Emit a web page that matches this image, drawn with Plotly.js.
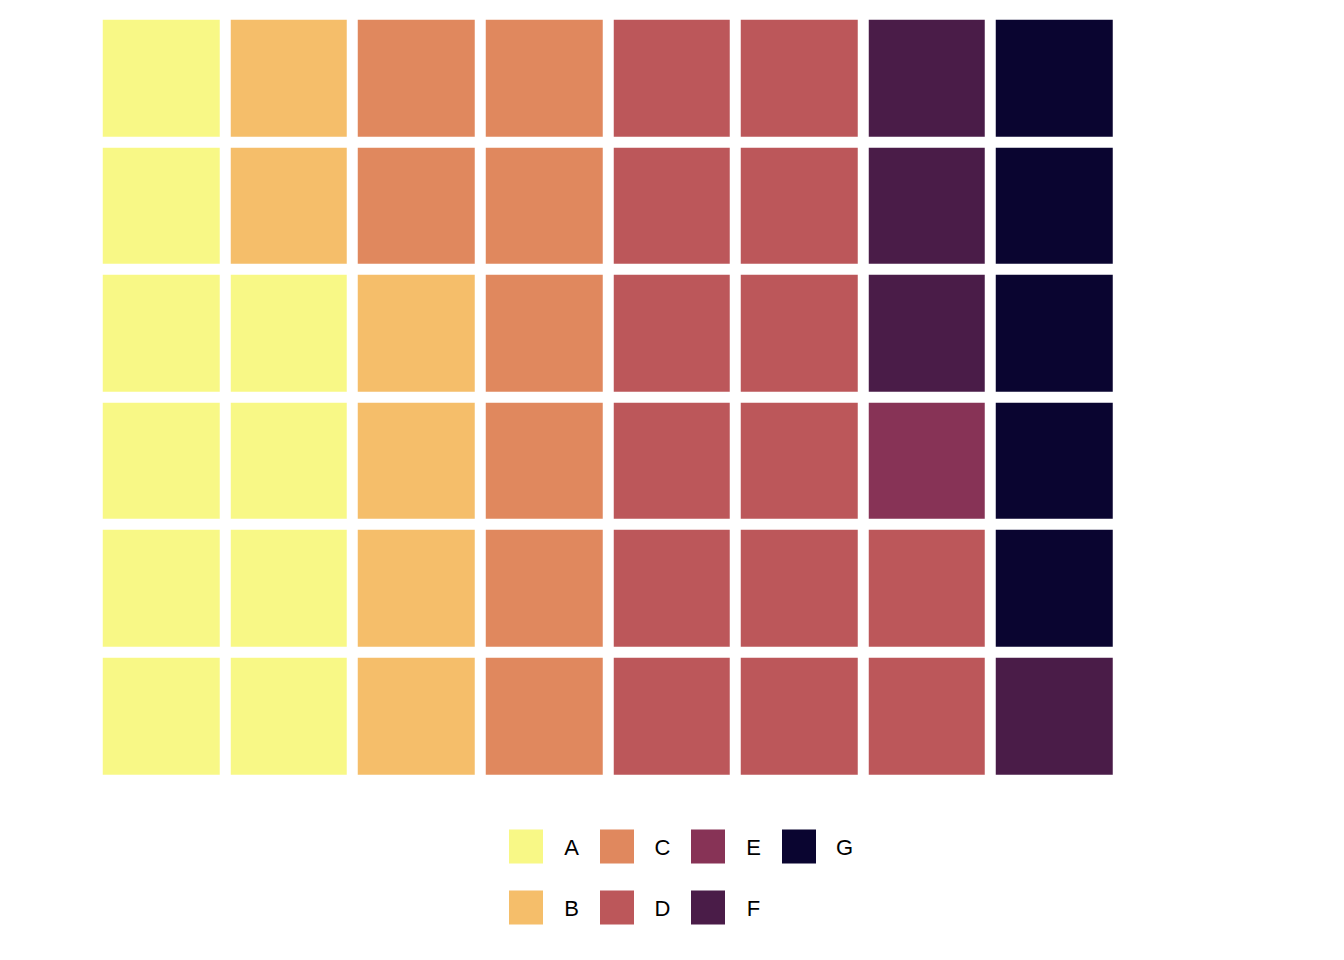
<!DOCTYPE html>
<html>
<head>
<meta charset="utf-8">
<script src="https://cdn.plot.ly/plotly-3.0.1.min.js"></script>
<style>html,body{margin:0;padding:0;background:#fff;}#chart{width:1344px;height:960px;}</style>
</head>
<body>
<div id="chart"></div>
<script>
// ---- data ----
const categories = ["A", "B", "C", "D", "E", "F", "G"];
const counts = [10, 6, 8, 14, 1, 4, 5];
const colors = ["#F8F886", "#F5BE6A", "#E0885E", "#BC575A", "#873356", "#4A1C48", "#0A0530"];
const nCols = 8;
const nRows = 6;

// ---- build waffle grid: fill column by column, bottom to top ----
const z = [];
for (let r = 0; r < nRows; r++) z.push(new Array(nCols).fill(null));
let idx = 0;
categories.forEach((c, ci) => {
  for (let k = 0; k < counts[ci]; k++) {
    const col = Math.floor(idx / nRows);
    const row = idx % nRows;
    z[row][col] = ci;
    idx++;
  }
});
const xs = Array.from({length: nCols}, (_, i) => i + 1);
const ys = Array.from({length: nRows}, (_, i) => i + 1);

const n = categories.length;
const colorscale = [];
colors.forEach((c, i) => { colorscale.push([i / n, c]); colorscale.push([(i + 1) / n, c]); });

const W = 1344, H = 960;
// grid area in pixels
const gx0 = 97.7, gx1 = 1118.7, gy0 = 14.7, gy1 = 780.3;

const heat = {
  type: "heatmap", x: xs, y: ys, z: z,
  zmin: -0.5, zmax: n - 0.5, colorscale: colorscale,
  showscale: false, xgap: 11, ygap: 11, hoverinfo: "skip",
  xaxis: "x", yaxis: "y"
};

// ---- legend (two rows, column-major) ----
const legX0 = 526, legDX = 91, legY0 = 846.5, legDY = 61, textOff = 45.5;
const lx = [], ly = [], tx = [];
categories.forEach((c, i) => {
  const col = Math.floor(i / 2), row = i % 2;
  lx.push(legX0 + col * legDX);
  ly.push(legY0 + row * legDY);
  tx.push(legX0 + col * legDX + textOff);
});
const legMarks = {
  type: "scatter", mode: "markers", x: lx, y: ly,
  marker: {symbol: "square", size: 34, color: colors, line: {width: 0}},
  xaxis: "x2", yaxis: "y2", hoverinfo: "skip", showlegend: false
};
const legText = {
  type: "scatter", mode: "text", x: tx, y: ly.map(v => v + 3), text: categories,
  textposition: "middle center",
  textfont: {family: "Liberation Sans, Arial, sans-serif", size: 22, color: "#000"},
  xaxis: "x2", yaxis: "y2", hoverinfo: "skip", showlegend: false
};

const layout = {
  width: W, height: H,
  margin: {l: 0, r: 0, t: 0, b: 0},
  paper_bgcolor: "#fff", plot_bgcolor: "rgba(0,0,0,0)",
  showlegend: false,
  xaxis: {domain: [gx0 / W, gx1 / W], range: [0.5, nCols + 0.5], visible: false, fixedrange: true},
  yaxis: {domain: [1 - gy1 / H, 1 - gy0 / H], range: [0.5, nRows + 0.5], visible: false, fixedrange: true},
  xaxis2: {domain: [0, 1], range: [0, W], visible: false, anchor: "y2", fixedrange: true},
  yaxis2: {domain: [0, 1], range: [H, 0], visible: false, anchor: "x2", fixedrange: true}
};

Plotly.newPlot("chart", [heat, legMarks, legText], layout, {displayModeBar: false, staticPlot: true});
</script>
</body>
</html>
